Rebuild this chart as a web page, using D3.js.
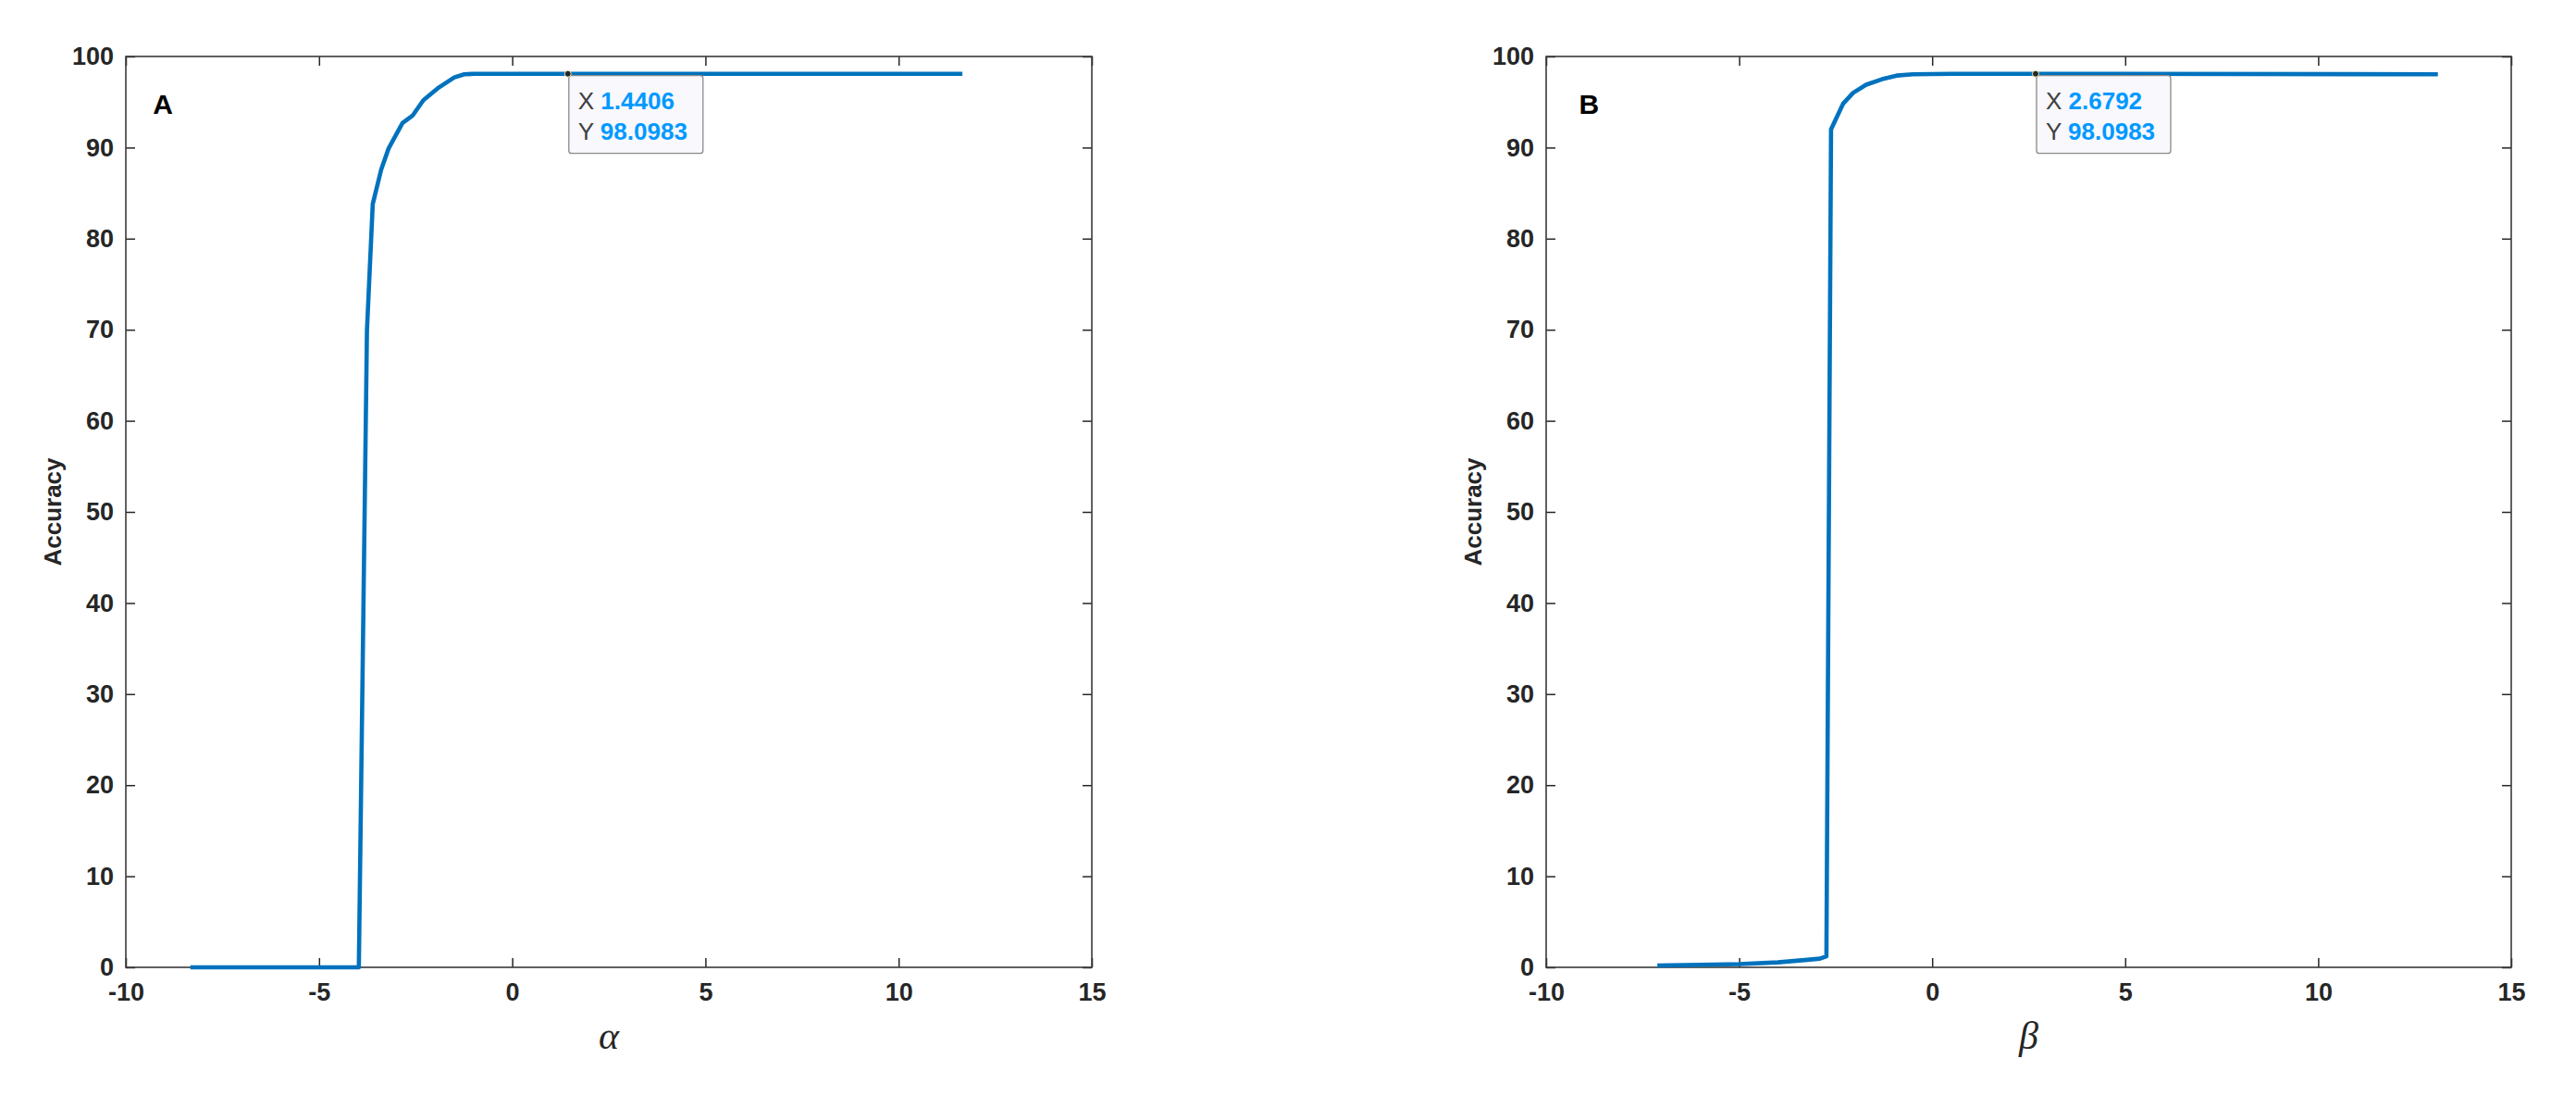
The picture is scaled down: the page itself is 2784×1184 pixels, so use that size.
<!DOCTYPE html>
<html>
<head>
<meta charset="utf-8">
<script src="https://cdn.jsdelivr.net/npm/d3@7"></script>
<style>
	body { margin: 0; background: #fff; }
	svg { display: block; }
	text { font-family: "Liberation Sans", Arial, Helvetica, sans-serif; }
</style>
</head>
<body>
<svg></svg>
<script>
var WIDTH = 2784;
var HEIGHT = 1184;

// panel A: accuracy against alpha
var alphaValues = [-8.33, -3.97, -3.76, -3.61, -3.39, -3.2, -2.84, -2.58, -2.3, -1.93, -1.5, -1.24, -0.97, 0, 1.4406, 11.65];
var alphaAccuracy = [0, 0, 69.9, 83.8, 87.6, 89.9, 92.7, 93.5, 95.2, 96.5, 97.7, 98.05, 98.1, 98.1, 98.0983, 98.1];

// panel B: accuracy against beta
var betaValues = [-7.12, -6, -5, -4, -3.3, -2.91, -2.74, -2.62, -2.31, -2.05, -1.71, -1.3, -0.92, -0.5, 0.5, 2.6792, 13.1];
var betaAccuracy = [0.2, 0.28, 0.35, 0.55, 0.8, 0.95, 1.2, 92.0, 94.8, 96.0, 96.9, 97.5, 97.9, 98.05, 98.1, 98.0983, 98.05];

var xTicks = [-10, -5, 0, 5, 10, 15];
var yTicks = [0, 10, 20, 30, 40, 50, 60, 70, 80, 90, 100];

// data tips shown on each curve
var tipA = {x: 1.4406, y: 98.0983};
var tipB = {x: 2.6792, y: 98.0983};

var panels = [
	{letter: 'A', xs: alphaValues, ys: alphaAccuracy, tip: tipA, symbol: '\u03b1', left: 136, right: 1180, letterX: -9.3},
	{letter: 'B', xs: betaValues, ys: betaAccuracy, tip: tipB, symbol: '\u03b2', left: 1671, right: 2714, letterX: -9.15}
];
var TOP = 61;
var BOTTOM = 1045;

// matlab prints a plain hyphen for negatives
var plainFormat = function(d){ return String(d); };

var svg = d3.select('svg')
	.attr('width', WIDTH)
	.attr('height', HEIGHT);

svg.append('rect').attr('width', WIDTH).attr('height', HEIGHT).attr('fill', '#fff');

panels.forEach(function(p){
	var x = d3.scaleLinear().domain([-10, 15]).range([p.left, p.right]);
	var y = d3.scaleLinear().domain([0, 100]).range([BOTTOM, TOP]);
	var g = svg.append('g');

	// ticks on all four sides, pointing inward (matlab box style)
	var bottomAxis = d3.axisBottom(x).tickValues(xTicks).tickFormat(plainFormat).tickSizeInner(-10).tickSizeOuter(0).tickPadding(17);
	var leftAxis = d3.axisLeft(y).tickValues(yTicks).tickFormat(plainFormat).tickSizeInner(-10).tickSizeOuter(0).tickPadding(13);
	var topAxis = d3.axisTop(x).tickValues(xTicks).tickSizeInner(-10).tickSizeOuter(0).tickFormat('');
	var rightAxis = d3.axisRight(y).tickValues(yTicks).tickSizeInner(-10).tickSizeOuter(0).tickFormat('');

	var axes = [
		g.append('g').attr('transform', 'translate(0,' + BOTTOM + ')').call(bottomAxis),
		g.append('g').attr('transform', 'translate(' + p.left + ',0)').call(leftAxis),
		g.append('g').attr('transform', 'translate(0,' + TOP + ')').call(topAxis),
		g.append('g').attr('transform', 'translate(' + p.right + ',0)').call(rightAxis)
	];
	axes.forEach(function(a){
		a.select('.domain').remove();
		a.selectAll('line').attr('stroke', '#262626').attr('stroke-width', 1.5);
		a.selectAll('text')
			.attr('fill', '#262626')
			.style('font-size', '27px')
			.style('font-weight', 'bold')
			.style('font-family', '"Liberation Sans", Arial, sans-serif');
	});

	g.append('rect')
		.attr('x', p.left)
		.attr('y', TOP)
		.attr('width', p.right - p.left)
		.attr('height', BOTTOM - TOP)
		.attr('fill', 'none')
		.attr('stroke', '#3a3a3a')
		.attr('stroke-width', 1.6);

	var points = p.xs.map(function(v, i){ return [v, p.ys[i]]; });
	var line = d3.line()
		.x(function(d){ return x(d[0]); })
		.y(function(d){ return y(d[1]); });
	g.append('path')
		.datum(points)
		.attr('d', line)
		.attr('fill', 'none')
		.attr('stroke', '#0072BD')
		.attr('stroke-width', 4.6)
		.attr('stroke-linejoin', 'round');

	// panel letter
	g.append('text')
		.attr('x', x(p.letterX))
		.attr('y', y(93.7))
		.style('font-size', '30px')
		.style('font-weight', 'bold')
		.attr('fill', '#000')
		.text(p.letter);

	// y label
	g.append('text')
		.attr('transform', 'translate(' + (p.left - 70) + ',' + ((TOP + BOTTOM) / 2) + ') rotate(-90)')
		.attr('text-anchor', 'middle')
		.style('font-size', '26px')
		.style('font-weight', 'bold')
		.attr('fill', '#262626')
		.text('Accuracy');

	// x label (greek symbol, latex style)
	g.append('text')
		.attr('x', (p.left + p.right) / 2)
		.attr('y', 1133)
		.attr('text-anchor', 'middle')
		.style('font-family', '"Liberation Serif", "DejaVu Serif", serif')
		.style('font-style', 'italic')
		.style('font-size', '42px')
		.attr('fill', '#262626')
		.text(p.symbol);

	// data tip
	var tx = x(p.tip.x);
	var ty = y(p.tip.y);
	var tip = g.append('g');
	tip.append('rect')
		.attr('x', tx + 1)
		.attr('y', ty + 2)
		.attr('width', 145)
		.attr('height', 84)
		.attr('rx', 3)
		.attr('fill', '#f8f8fd')
		.attr('stroke', '#8a8a8a')
		.attr('stroke-width', 1.3);
	var rows = [['X', p.tip.x.toFixed(4)], ['Y', p.tip.y.toFixed(4)]];
	rows.forEach(function(r, i){
		var t = tip.append('text')
			.attr('x', tx + 11)
			.attr('y', ty + 38 + i * 33)
			.style('font-size', '26px')
			.attr('fill', '#404040')
			.text(r[0] + ' ');
		t.append('tspan')
			.style('font-weight', 'bold')
			.attr('fill', '#0099ff')
			.text(r[1]);
	});
	tip.append('circle')
		.attr('cx', tx)
		.attr('cy', ty)
		.attr('r', 3.5)
		.attr('fill', '#262626')
		.attr('stroke', '#f2eec0')
		.attr('stroke-width', 1);
});
</script>
</body>
</html>
